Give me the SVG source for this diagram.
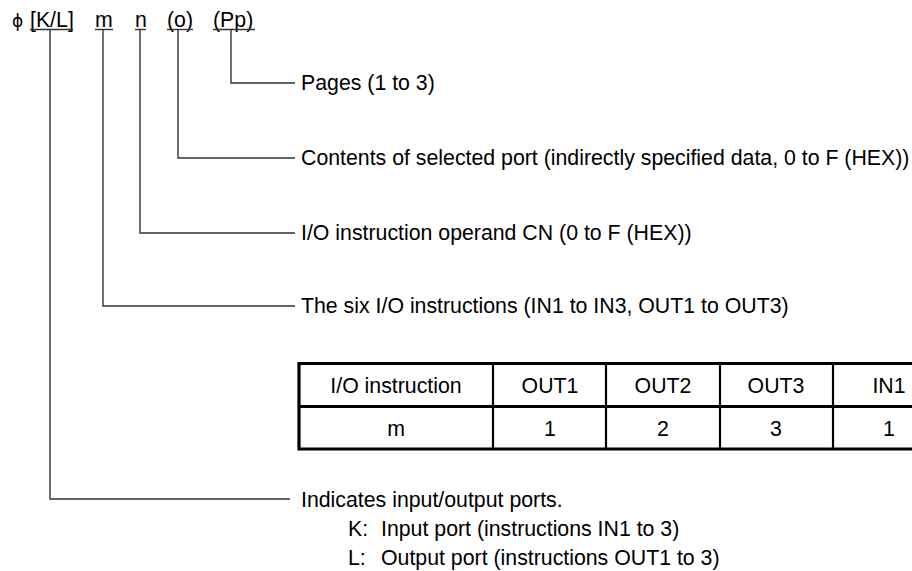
<svg xmlns="http://www.w3.org/2000/svg" width="912" height="571" viewBox="0 0 912 571">
<style>
  text { font-family: "Liberation Sans", Arial, sans-serif; font-size: 21.3px; fill: #000; }
  .c { text-anchor: middle; }
  .lead { fill: none; stroke: #333; stroke-width: 1.4; }
  .ul { stroke: #333; stroke-width: 1.4; }
  .tb { fill: none; stroke: #000; stroke-width: 3.2; }
  .tv { stroke: #000; stroke-width: 2.2; }
</style>
<rect width="912" height="571" fill="#fff"/>

<g id="notation">
  <text x="12" y="27" style="font-family:'DejaVu Sans','Liberation Sans',sans-serif;font-size:17px">ϕ</text>
  <text x="30" y="27">[K/L]</text>
  <text x="95" y="27">m</text>
  <text x="135" y="27">n</text>
  <text x="167" y="27">(o)</text>
  <text x="213" y="27">(Pp)</text>
  <line class="ul" x1="30" y1="29.5" x2="73" y2="29.5"/>
  <line class="ul" x1="95" y1="29.5" x2="113" y2="29.5"/>
  <line class="ul" x1="135" y1="29.5" x2="146" y2="29.5"/>
  <line class="ul" x1="167" y1="29.5" x2="193" y2="29.5"/>
  <line class="ul" x1="213" y1="29.5" x2="255" y2="29.5"/>
</g>

<g id="connectors">
  <polyline class="lead" points="231,29.5 231,83 295,83"/>
  <polyline class="lead" points="178,29.5 178,158 295,158"/>
  <polyline class="lead" points="140,29.5 140,233 295,233"/>
  <polyline class="lead" points="103,29.5 103,306 295,306"/>
  <polyline class="lead" points="50,29.5 50,499 290,499"/>
</g>

<g id="label-pages">
  <text x="301" y="90">Pages (1 to 3)</text>
</g>
<g id="label-contents">
  <text x="301" y="165">Contents of selected port (indirectly specified data, 0 to F (HEX))</text>
</g>
<g id="label-operand">
  <text x="301" y="240">I/O instruction operand CN (0 to F (HEX))</text>
</g>
<g id="label-six">
  <text x="301" y="313">The six I/O instructions (IN1 to IN3, OUT1 to OUT3)</text>
</g>

<g id="table">
  <line class="tv" x1="493" y1="363" x2="493" y2="449"/>
  <line class="tv" x1="606" y1="363" x2="606" y2="449"/>
  <line class="tv" x1="720" y1="363" x2="720" y2="449"/>
  <line class="tv" x1="833" y1="363" x2="833" y2="449"/>
  <path class="tb" d="M914,363.5 H299 V449 H914 M299,406.5 H914"/>
  <text class="c" x="396" y="393">I/O instruction</text>
  <text class="c" x="550" y="393">OUT1</text>
  <text class="c" x="663" y="393">OUT2</text>
  <text class="c" x="776" y="393">OUT3</text>
  <text class="c" x="889" y="393">IN1</text>
  <text class="c" x="396" y="436">m</text>
  <text class="c" x="550" y="436">1</text>
  <text class="c" x="663" y="436">2</text>
  <text class="c" x="776" y="436">3</text>
  <text class="c" x="889" y="436">1</text>
</g>

<g id="label-ports">
  <text x="301" y="507">Indicates input/output ports.</text>
  <text x="348" y="536">K:</text>
  <text x="381" y="536">Input port (instructions IN1 to 3)</text>
  <text x="348" y="565">L:</text>
  <text x="381" y="565">Output port (instructions OUT1 to 3)</text>
</g>
</svg>
